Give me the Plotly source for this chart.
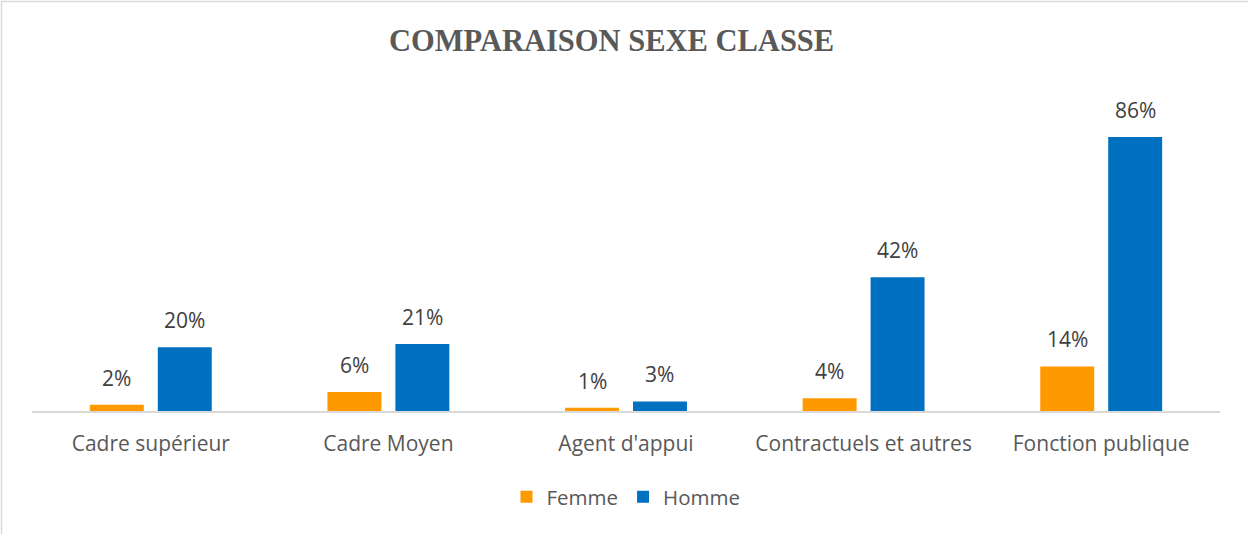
import plotly.graph_objects as go

categories = ["Cadre supérieur", "Cadre Moyen", "Agent d'appui", "Contractuels et autres", "Fonction publique"]
femme = [2, 6, 1, 4, 14]
homme = [20, 21, 3, 42, 86]
series_names = ["Femme", "Homme"]
colors = ["#FF9900", "#0070C0"]
title_text = "COMPARAISON SEXE CLASSE"

W, H = 1248, 534
L, R, T, B = 32, 28, 90, 123
plot_w = W - L - R
plot_h = H - T - B
y_max = 100.75
base_px = H - B

fig = go.Figure()
for name, vals, col in zip(series_names, [femme, homme], colors):
    fig.add_trace(go.Bar(
        x=categories, y=vals, name=name, marker=dict(color=col, line=dict(width=0)),
        textposition="none", hoverinfo="x+y",
    ))

# data labels as annotations above bars
slot = plot_w / len(categories) * (1 - 0.428) / 2
annotations = []
for i, vals in enumerate([femme, homme]):
    shift = (-0.5 + i) * slot
    for c, v in zip(categories, vals):
        annotations.append(dict(
            x=c, y=v, xref="x", yref="y", text=f"{v}%", showarrow=False,
            xshift=shift, yanchor="bottom", yshift=11,
            font=dict(family="Open Sans", size=21, color="#404040"),
        ))

annotations.append(dict(
    x=(611 - L) / plot_w, y=(base_px - 41) / plot_h, xref="paper", yref="paper",
    text="<b>" + title_text + "</b>", showarrow=False, xanchor="center", yanchor="middle",
    font=dict(family="Liberation Serif", size=30.5, color="#595959"),
))

fig.update_layout(
    width=W, height=H,
    margin=dict(l=L, r=R, t=T, b=B),
    paper_bgcolor="white", plot_bgcolor="white",
    barmode="group", bargap=0.428, bargroupgap=0.206,
    showlegend=True,
    legend=dict(orientation="h", x=(626 - L) / plot_w, xanchor="center",
                y=-(497 - base_px) / plot_h, yanchor="middle",
                font=dict(family="Open Sans", size=20.5, color="#595959"),
                itemclick=False, traceorder="normal"),
    annotations=annotations,
    shapes=[
        dict(type="line", xref="paper", yref="paper",
             x0=(1.5 - L) / plot_w, x1=(1.5 - L) / plot_w,
             y0=-(H + 10 - base_px) / plot_h, y1=(base_px - 1.5) / plot_h,
             line=dict(color="#D9D9D9", width=1.5)),
        dict(type="line", xref="paper", yref="paper",
             x0=(1.5 - L) / plot_w, x1=(W + 5 - L) / plot_w,
             y0=(base_px - 1.5) / plot_h, y1=(base_px - 1.5) / plot_h,
             line=dict(color="#D9D9D9", width=1.5)),
    ],
)
fig.update_xaxes(showline=True, linecolor="#D9D9D9", linewidth=1.5, showgrid=False,
                 ticks="outside", ticklen=13, tickcolor="rgba(0,0,0,0)",
                 tickfont=dict(family="Open Sans", size=21, color="#595959"))
fig.update_yaxes(range=[0, y_max], visible=False, showgrid=False, zeroline=False)

fig.write_html("out.html", config={"displayModeBar": False},
               post_script="document.body.style.margin='0';document.body.style.overflow='hidden';")
